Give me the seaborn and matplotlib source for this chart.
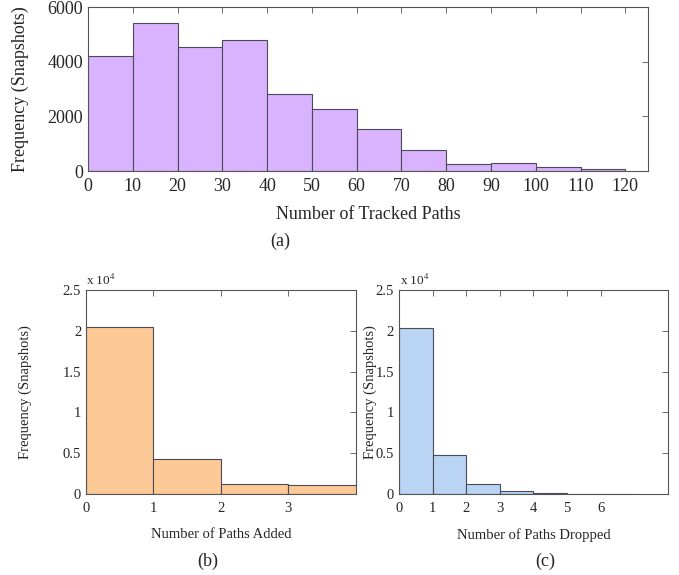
import numpy as np
import pandas as pd
import matplotlib
matplotlib.use("Agg")
import matplotlib.pyplot as plt
import seaborn as sns

# ---- data ----
tracked_edges = [0, 10, 20, 30, 40, 50, 60, 70, 80, 90, 100, 110, 120]
tracked_counts = [4200, 5400, 4520, 4800, 2800, 2280, 1520, 780, 260, 300, 150, 60]

added_edges = [0, 1, 2, 3, 4]
added_counts = [20500, 4300, 1250, 1080]

dropped_edges = [0, 1, 2, 3, 4, 5, 6, 7]
dropped_counts = [20400, 4750, 1280, 400, 120, 50, 20]

top_xticks = list(range(0, 121, 10))
added_xticks = [0, 1, 2, 3]
dropped_xticks = [0, 1, 2, 3, 4, 5, 6]
bottom_yticks = [0, 0.5, 1, 1.5, 2, 2.5]

sns.set_theme(style="white")
plt.rcParams['font.family'] = ['Liberation Serif', 'DejaVu Serif']
plt.rcParams['mathtext.fontset'] = 'stix'

fig = plt.figure(figsize=(6.79, 5.75), dpi=100)

ax_a = fig.add_axes([0.1296, 0.7026, 0.954 - 0.1296, 0.9878 - 0.7026])
ax_b = fig.add_axes([0.1267, 0.1409, 0.524 - 0.1267, 0.4957 - 0.1409])
ax_c = fig.add_axes([0.5876, 0.1409, 0.9838 - 0.5876, 0.4957 - 0.1409])

edge_col = "#4a4a5a"
spine_col = "#555555"


def hist(ax, edges, counts, color, scale=1.0):
    centers = [(a + b) / 2 for a, b in zip(edges[:-1], edges[1:])]
    df = pd.DataFrame({"x": centers, "w": [c / scale for c in counts]})
    sns.histplot(data=df, x="x", weights="w", bins=list(edges), ax=ax, color=color,
                 alpha=1.0, edgecolor=edge_col, linewidth=0.8)


hist(ax_a, tracked_edges, tracked_counts, "#d9b3fd")
hist(ax_b, added_edges, added_counts, "#fdc997", scale=1e4)
hist(ax_c, dropped_edges, dropped_counts, "#b9d5f3", scale=1e4)

for ax in (ax_a, ax_b, ax_c):
    for s in ax.spines.values():
        s.set_color(spine_col)
        s.set_linewidth(0.8)
    ax.tick_params(direction="in", top=True, right=True, length=4,
                   color=spine_col, width=0.6)
    ax.set_ylabel("")
    ax.set_xlabel("")

# panel a
ax_a.set_xlim(0, 125)
ax_a.set_ylim(0, 6000)
ax_a.set_xticks(top_xticks)
ax_a.set_yticks([0, 2000, 4000, 6000])
ax_a.tick_params(labelsize=13)
ax_a.tick_params(axis="x", pad=5)
ax_a.set_ylabel("Frequency (Snapshots)", fontsize=13, labelpad=13)
ax_a.set_xlabel("Number of Tracked Paths", fontsize=13, labelpad=8)

# panel b
ax_b.set_xlim(0, 4)
ax_b.set_ylim(0, 2.5)
ax_b.set_xticks(added_xticks)
ax_b.set_yticks(bottom_yticks)
ax_b.set_yticklabels(["0", "0.5", "1", "1.5", "2", "2.5"])
ax_b.tick_params(labelsize=10.5)
ax_b.tick_params(axis="x", pad=6)
ax_b.set_ylabel("Frequency (Snapshots)", fontsize=10.5, labelpad=22)
ax_b.set_xlabel("Number of Paths Added", fontsize=10.5, labelpad=9)
ax_b.text(0.0, 1.012, r"x 10$^4$", transform=ax_b.transAxes, fontsize=9.5,
          ha="left", va="bottom")

# panel c
ax_c.set_xlim(0, 8)
ax_c.set_ylim(0, 2.5)
ax_c.set_xticks(dropped_xticks)
ax_c.set_yticks(bottom_yticks)
ax_c.set_yticklabels(["0", "0.5", "1", "1.5", "2", "2.5"])
ax_c.tick_params(labelsize=10.5)
ax_c.tick_params(axis="x", pad=6)
ax_c.set_ylabel("Frequency (Snapshots)", fontsize=10.5, labelpad=-1)
ax_c.set_xlabel("Number of Paths Dropped", fontsize=10.5, labelpad=9)
ax_c.text(0.005, 1.012, r"x 10$^4$", transform=ax_c.transAxes, fontsize=9.5,
          ha="left", va="bottom")

fig.text(280 / 679, 1 - 241 / 575, "(a)", ha="center", va="center", fontsize=13)
fig.text(208 / 679, 1 - 561 / 575, "(b)", ha="center", va="center", fontsize=13)
fig.text(545 / 679, 1 - 561 / 575, "(c)", ha="center", va="center", fontsize=13)

fig.savefig("out.png", dpi=100)
